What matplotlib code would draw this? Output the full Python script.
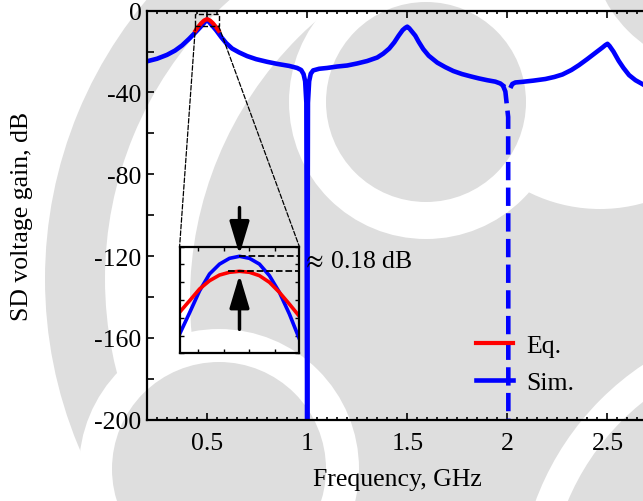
import numpy as np
import matplotlib
matplotlib.use("Agg")
import matplotlib.pyplot as plt
from matplotlib.ticker import MultipleLocator, FuncFormatter
from matplotlib.patches import Rectangle, ConnectionPatch, Circle, Wedge
from matplotlib.transforms import Affine2D

plt.rcParams['font.family'] = ['Liberation Serif', 'DejaVu Serif']
plt.rcParams['mathtext.fontset'] = 'stix'
plt.rcParams['axes.unicode_minus'] = False

# simulated response (GHz, dB)
sim_f = [0.19, 0.25, 0.30, 0.34, 0.375, 0.41, 0.44, 0.465, 0.485, 0.50,
         0.51, 0.525, 0.545, 0.57, 0.595, 0.625, 0.66, 0.70, 0.745, 0.80,
         0.85, 0.91, 0.95, 0.97, 0.982, 0.99, 0.996, 1.0, 1.004, 1.01,
         1.018, 1.03, 1.06, 1.10, 1.15, 1.20, 1.25, 1.30, 1.35, 1.38,
         1.41, 1.435, 1.457, 1.477, 1.49, 1.50, 1.51, 1.52, 1.54, 1.557,
         1.58, 1.607, 1.65, 1.69, 1.73, 1.774, 1.82, 1.857, 1.90, 1.94,
         1.965, 1.978, 1.99, 2.004, 2.005, 2.02, 2.025, 2.04, 2.074, 2.13,
         2.19, 2.235, 2.275, 2.32, 2.358, 2.40, 2.44, 2.475, 2.49, 2.50,
         2.51, 2.53, 2.556, 2.58, 2.608, 2.64, 2.673, 2.72, 2.78]
sim_db = [-25.0, -23.5, -21.6, -19.5, -17.0, -13.8, -10.8, -8.2, -6.0, -4.3,
          -5.5, -7.2, -9.5, -12.8, -15.8, -18.5, -20.4, -22.2, -23.7, -25.0,
          -26.0, -27.0, -28.0, -29.0, -31.0, -34.5, -45.0, -210.0, -45.0, -34.5,
          -30.8, -29.2, -28.4, -28.0, -27.3, -26.8, -25.8, -24.6, -22.9, -21.0,
          -18.5, -15.5, -12.2, -9.5, -8.4, -7.8, -8.6, -9.8, -12.2, -15.2,
          -18.8, -22.0, -25.4, -27.6, -29.5, -31.0, -32.2, -33.1, -34.0, -34.7,
          -35.6, -36.6, -39.5, -52.0, -210.0, -36.8, -35.8, -35.1, -34.8, -34.2,
          -33.4, -32.4, -31.2, -29.0, -26.6, -23.6, -20.6, -18.0, -16.8, -16.2,
          -17.2, -20.0, -24.5, -28.0, -31.5, -34.0, -35.8, -38.5, -41.0]

# equation near the first resonance
eq_f = [0.442, 0.455, 0.47, 0.485, 0.50, 0.515, 0.53, 0.545, 0.558]
eq_db = [-9.8, -8.0, -6.2, -4.8, -4.1, -4.8, -6.2, -8.0, -9.8]

# zoomed peak (inset)
zin_f = [0.4970, 0.4975, 0.4980, 0.4985, 0.4990, 0.4995, 0.5000,
         0.5005, 0.5010, 0.5015, 0.5020, 0.5025, 0.5030]
zin_sim = [-3.984, -3.744, -3.497, -3.307, -3.196, -3.131, -3.108,
           -3.131, -3.196, -3.326, -3.514, -3.758, -4.039]
zin_eq = [-3.738, -3.608, -3.476, -3.383, -3.319, -3.288, -3.277,
          -3.288, -3.326, -3.401, -3.514, -3.646, -3.784]

sim_f = np.array(sim_f)
sim_db = np.array(sim_db)

W, H = 643, 502
fig = plt.figure(figsize=(W / 100, H / 100), dpi=100)

# faint background watermark (pixel coords, y from the top)
px = Affine2D().scale(1, -1).translate(0, H)
grey = '#dedede'
wm = [
    Circle((560, 300), 370, color=grey),
    Wedge((480, 280), 435, 0, 360, width=60, color=grey),
    Circle((426, 103), 137, color='white'),
    Circle((600, 50), 160, color='white'),
    Circle((426, 103), 100, color=grey),
    Circle((720, -60), 130, color=grey),
    Circle((219, 470), 140, color='white'),
    Circle((219, 470), 107, color=grey),
    Circle((800, 600), 282, color='white'),
    Circle((800, 600), 252, color=grey),
]
for p in wm:
    p.set_transform(px)
    p.set_zorder(-10)
    p.set_linewidth(0)
    fig.add_artist(p)

ax = fig.add_axes([0.2286, 0.162, 0.7784, 0.8147])
ax.patch.set_alpha(0)

blue = '#0000ff'
red = '#ff0000'
lw = 3.3

solid_l = sim_f <= 1.978
dip = (sim_f >= 1.978) & (sim_f <= 2.005)
solid_r = sim_f >= 2.02
ax.plot(sim_f[solid_l], sim_db[solid_l], color=blue, lw=lw, label='Sim.')
ax.plot(sim_f[dip], sim_db[dip], color=blue, lw=lw, dashes=(4.0, 1.6))
ax.plot(sim_f[solid_r], sim_db[solid_r], color=blue, lw=lw)
ax.plot(eq_f, eq_db, color=red, lw=3.0, label='Eq.')

ax.set_xlim(0.2, 2.7)
ax.set_ylim(-200, 0)
ax.xaxis.set_major_locator(MultipleLocator(0.5))
ax.xaxis.set_minor_locator(MultipleLocator(0.05))
ax.yaxis.set_major_locator(MultipleLocator(40))
ax.yaxis.set_minor_locator(MultipleLocator(20))
ax.xaxis.set_major_formatter(FuncFormatter(lambda v, p: '%g' % v))
ax.yaxis.set_major_formatter(FuncFormatter(lambda v, p: '%g' % v))
ax.tick_params(which='both', direction='in', top=True, right=False, width=1.2)
ax.tick_params(which='major', length=5, labelsize=18.5)
ax.tick_params(axis='x', which='major', pad=9)
ax.tick_params(axis='y', which='major', pad=4)
ax.tick_params(axis='x', which='minor', length=2.5)
ax.tick_params(axis='y', which='minor', length=5)
for s in ax.spines.values():
    s.set_linewidth(1.6)
ax.set_xlabel('Frequency, GHz', fontsize=18.5, labelpad=10)
ax.set_ylabel('SD voltage gain, dB', fontsize=18.5, labelpad=44)

h, l = ax.get_legend_handles_labels()
ax.legend([h[1], h[0]], [l[1], l[0]], loc='center left',
          bbox_to_anchor=(476 / W, 1 - 365 / H),
          bbox_transform=fig.transFigure, frameon=False, fontsize=18.5,
          handlelength=1.45, handletextpad=0.5, labelspacing=0.55,
          borderpad=0, borderaxespad=0)

# zoom box on the first peak
ax.add_patch(Rectangle((0.442, -7.5), 0.116, 5.7, fill=False, ls='--',
                       lw=1.0, color='k', zorder=5))

axi = fig.add_axes([0.2793, 0.2942, 0.1863, 0.2124])
axi.patch.set_alpha(0)
axi.plot(zin_f, zin_sim, color=blue, lw=2.6)
axi.plot(zin_f, zin_eq, color=red, lw=2.6)
axi.set_xlim(0.497, 0.503)
axi.set_ylim(-4.2, -3.0)
axi.xaxis.set_major_locator(MultipleLocator(0.0013))
axi.yaxis.set_major_locator(MultipleLocator(0.2))
axi.tick_params(direction='in', top=True, right=True, length=3, width=1,
                labelbottom=False, labelleft=False)
for s in axi.spines.values():
    s.set_linewidth(1.6)

for xa, xb in [(0.442, 0.0), (0.558, 1.0)]:
    con = ConnectionPatch(xyA=(xa, -7.5), coordsA=ax.transData,
                          xyB=(xb, 1.0), coordsB=axi.transAxes,
                          ls='--', lw=0.9, color='k')
    fig.add_artist(con)

# peak difference markers
pk_sim = max(zin_sim)
pk_eq = max(zin_eq)
axi.plot([0.5, 0.503], [pk_sim, pk_sim], 'k--', lw=1.3, clip_on=False)
axi.plot([0.4994, 0.503], [pk_eq, pk_eq], 'k--', lw=1.3, clip_on=False)
arrow = dict(arrowstyle='-|>,head_length=1.0,head_width=0.3', lw=2.5,
             color='k', shrinkA=0, shrinkB=0, mutation_scale=20)
axi.annotate('', xy=(0.5, pk_sim + 0.02), xytext=(0.5, -2.56),
             arrowprops=arrow, annotation_clip=False)
axi.annotate('', xy=(0.5, pk_eq - 0.04), xytext=(0.5, -3.93),
             arrowprops=arrow, annotation_clip=False)
axi.text(1.02, 0.865, r'$\approx\,$0.18 dB', transform=axi.transAxes,
         fontsize=18.5, ha='left', va='center')

fig.savefig('out.png', dpi=100)
